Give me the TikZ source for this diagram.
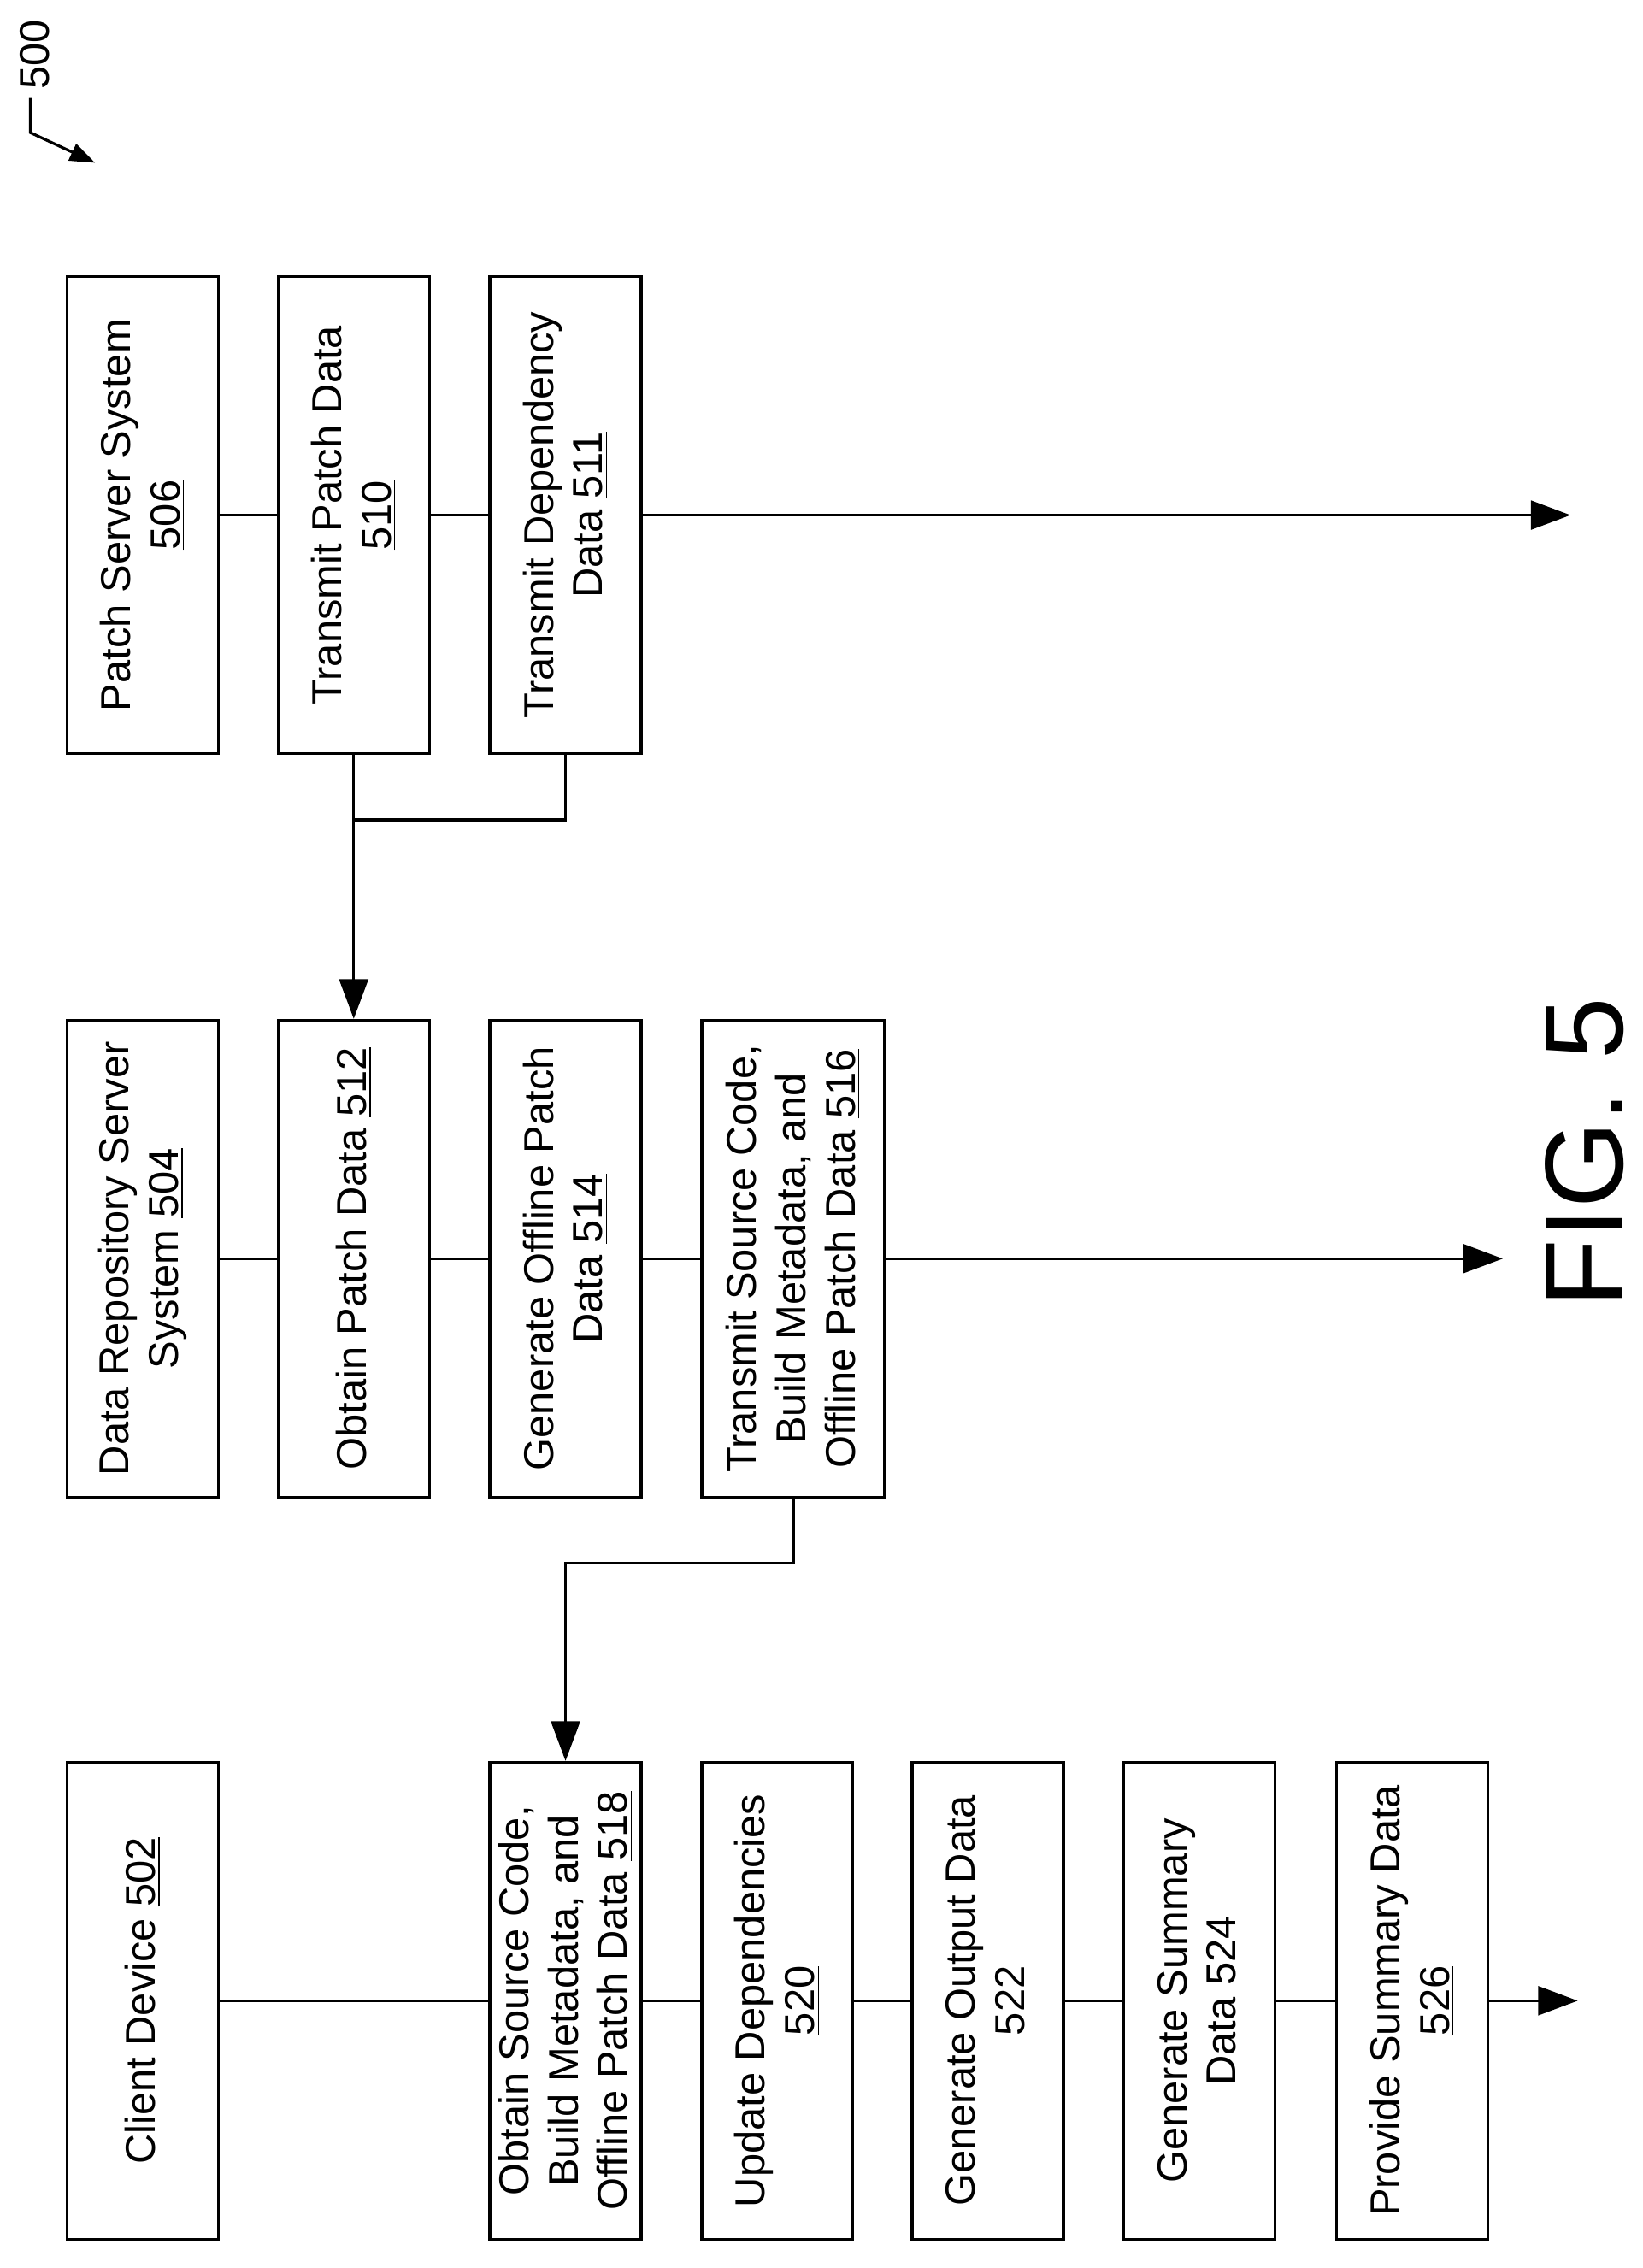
\documentclass[tikz,border=0pt]{standalone}
\usepackage{fontspec}
\setmainfont{Liberation Sans}
\usetikzlibrary{arrows.meta}
\tikzset{
	box/.style={shape=rectangle, draw, line width=1.1pt, rotate=90, minimum width=6.62cm, minimum height=2.1cm, align=center, inner sep=2pt, font=\fontsize{16.5}{19.5}\selectfont},
	wide/.style={box, minimum height=2.54cm},
	wire/.style={line width=1.1pt},
	flow/.style={line width=1.1pt, -{Triangle[length=0.55cm, width=0.4cm]}}
}
\begin{document}
\begin{tikzpicture}[x=0.02cm, y=-0.02cm]
	\useasboundingbox (0,0) rectangle (1140,1574);
	% Patch server column:
	\node[box] (pss) at (99, 357.5){Patch Server System\\\underline{506}};
	\node[box] (tpd) at (245.5, 357.5){Transmit Patch Data\\\underline{510}};
	\node[box] (tdd) at (392.5, 357.5){Transmit Dependency\\Data \underline{511}};
	\coordinate (e3) at (1090, 357.5);
	\draw[wire] (pss) -- (tpd);
	\draw[wire] (tpd) -- (tdd);
	\draw[flow] (tdd) -- (e3);
	% Data repository column:
	\node[box] (drs) at (99, 873.5){Data Repository Server\\System \underline{504}};
	\node[box] (opd) at (245.5, 873.5){Obtain Patch Data \underline{512}};
	\node[box] (gop) at (392.5, 873.5){Generate Offline Patch\\Data \underline{514}};
	\node[wide] (tsc) at (550.5, 873.5){Transmit Source Code,\\Build Metadata, and\\Offline Patch Data \underline{516}};
	\coordinate (e2) at (1043, 873.5);
	\draw[wire] (drs) -- (opd);
	\draw[wire] (opd) -- (gop);
	\draw[wire] (gop) -- (tsc);
	\draw[flow] (tsc) -- (e2);
	% Client column:
	\node[box] (cd) at (99, 1388.5){Client Device \underline{502}};
	\node[box] (osc) at (392.5, 1388.5){Obtain Source Code,\\Build Metadata, and\\Offline Patch Data \underline{518}};
	\node[box] (ud) at (539.5, 1388.5){Update Dependencies\\\underline{520}};
	\node[box] (god) at (685.5, 1388.5){Generate Output Data\\\underline{522}};
	\node[box] (gsd) at (832.5, 1388.5){Generate Summary\\Data \underline{524}};
	\node[box] (psd) at (980, 1388.5){Provide Summary Data\\\underline{526}};
	\coordinate (e1) at (1095, 1388.5);
	\draw[wire] (cd) -- (osc);
	\draw[wire] (osc) -- (ud);
	\draw[wire] (ud) -- (god);
	\draw[wire] (god) -- (gsd);
	\draw[wire] (gsd) -- (psd);
	\draw[flow] (psd) -- (e1);
	% Cross connectors:
	\draw[wire] (tdd.west) -- ++(0, 45) -| (tpd.west);
	\draw[flow] (tpd.west) -- (opd.east);
	\draw[flow] (tsc.west) -- ++(0, 45) -| (osc.east);
	% Labels:
	\node[rotate=90, font=\fontsize{44}{50}\selectfont] (fig) at (1100, 800){FIG. 5};
	\node[rotate=90, font=\fontsize{16.5}{19.5}\selectfont] (ref) at (24, 38){500};
	\draw[line width=1.1pt, -{Triangle[length=0.35cm, width=0.25cm]}] (21, 68) -- (21, 92) -- (66, 113);
\end{tikzpicture}
\end{document}
